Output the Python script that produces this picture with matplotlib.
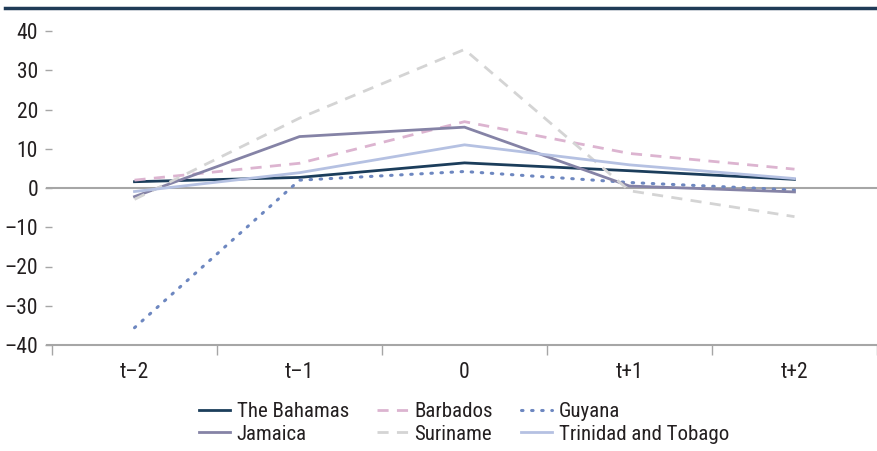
import matplotlib
matplotlib.use("Agg")
import matplotlib.pyplot as plt
from matplotlib.lines import Line2D
from matplotlib import font_manager

names = {f.name for f in font_manager.fontManager.ttflist}
cands = ['Liberation Sans Narrow', 'Roboto Condensed', 'Liberation Sans']
fam = [c for c in cands if c in names] + ['DejaVu Sans']
plt.rcParams['font.family'] = fam

categories = ["t\u20132", "t\u20131", "0", "t+1", "t+2"]
bahamas = [1.6, 2.7, 6.4, 4.4, 2.2]
barbados = [2.0, 6.3, 16.9, 8.8, 4.8]
guyana = [-35.6, 2.0, 4.2, 1.4, -0.5]
jamaica = [-2.2, 13.1, 15.5, 0.5, -1.0]
suriname = [-2.9, 17.8, 35.3, -0.7, -7.3]
trinidad = [-0.9, 3.9, 11.0, 5.9, 2.4]
yticks = [40, 30, 20, 10, 0, -10, -20, -30, -40]
ytick_labels = ["40", "30", "20", "10", "0", "\u201310", "\u201320", "\u201330", "\u201340"]

series = [
    ("The Bahamas", bahamas, dict(color="#1b3d5b", lw=2.0, ls="-")),
    ("Barbados", barbados, dict(color="#dcb4d0", lw=2.0, ls=(0, (4, 3)))),
    ("Guyana", guyana, dict(color="#6d87c0", lw=2.2, ls=(0, (0.5, 2.8)), dash_capstyle="round")),
    ("Jamaica", jamaica, dict(color="#8583a6", lw=2.0, ls="-")),
    ("Suriname", suriname, dict(color="#d4d4d4", lw=2.0, ls=(0, (4, 3)))),
    ("Trinidad and Tobago", trinidad, dict(color="#b5c1e2", lw=2.0, ls="-")),
]

fig = plt.figure(figsize=(8.77, 4.51), dpi=100)
ax = fig.add_axes([52/877, 1-345/451, 825/877, (345-31)/451])

x = list(range(len(categories)))
handles = []
for name, vals, st in series:
    ln, = ax.plot(x, vals, label=name, solid_joinstyle="miter", **st)
    handles.append(ln)

tfs = 15.5
fs = 15
ax.set_xlim(-0.5, 4.5)
ax.set_ylim(-40, 40)
ax.set_yticks(yticks)
ax.set_yticklabels(ytick_labels)
ax.set_xticks([i for i in x])
ax.set_xticklabels(categories)
ax.tick_params(axis='x', length=0, labelsize=tfs, pad=12, colors="#231f20")
ax.set_xticks([-0.5, 0.5, 1.5, 2.5, 3.5, 4.5], minor=True)
ax.tick_params(axis='x', which='minor', length=7, width=1, color="#a6a6a6")
ax.tick_params(axis='y', length=5, width=1, color="#a6a6a6", labelsize=tfs, pad=5, labelcolor="#231f20")

for s in ["top", "right", "left", "bottom"]:
    ax.spines[s].set_visible(False)
ax.axhline(0, xmin=-0.006, xmax=1, color="#a6a6a6", lw=1.5, clip_on=False, zorder=1)
ax.axhline(-40, xmin=-0.006, xmax=1, color="#a6a6a6", lw=1.5, clip_on=False, zorder=1)

fig.add_artist(Line2D([5/877, 1.0], [1-8/451, 1-8/451], color="#1f3b57", lw=2.5))

order = [0, 3, 1, 4, 2, 5]
leg = fig.legend([handles[i] for i in order], [series[i][0] for i in order],
                 ncol=3, loc="center", bbox_to_anchor=(464/877, 1-423/451),
                 frameon=False, fontsize=fs, handlelength=1.5, handletextpad=0.3,
                 columnspacing=1.35, labelspacing=0.15)
for t in leg.get_texts():
    t.set_color("#231f20")

fig.savefig("out.png", dpi=100)
